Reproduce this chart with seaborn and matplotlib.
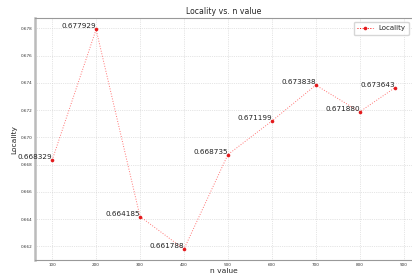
import numpy as np
import pandas as pd
import matplotlib
matplotlib.use("Agg")
import matplotlib.pyplot as plt
import seaborn as sns

n_values = [100, 200, 300, 400, 500, 600, 700, 800, 880]
locality = [0.668329, 0.677929, 0.664185, 0.661788, 0.668735,
            0.671199, 0.673838, 0.671880, 0.673643]

df = pd.DataFrame({"n value": n_values, "Locality": locality})

sns.set_style("whitegrid", {"grid.linestyle": ":", "grid.color": "#cccccc"})
plt.rcParams["font.family"] = ["DejaVu Sans"]

fig = plt.figure(figsize=(4.12, 2.8), dpi=100)
ax = fig.add_axes([0.085, 0.071, 0.915, 0.863])

sns.lineplot(data=df, x="n value", y="Locality", ax=ax, color="red",
             linestyle=":", linewidth=0.7, alpha=0.55, label="Locality")
ax.plot(df["n value"], df["Locality"], "o", color="#e31a1c", markersize=2.6,
        markeredgewidth=0)

for x, y in zip(n_values, locality):
    ax.text(x, y, f"{y:.6f}", ha="right", va="bottom", fontsize=5.2,
            color="#222222")

ax.set_xticks(range(100, 1000, 100))
ax.set_xlim(61, 919)
ax.tick_params(axis="both", labelsize=3, length=0, pad=2, colors="#333333")
ax.grid(True, linewidth=0.5)
ax.set_title("Locality vs. n value", fontsize=5.6, pad=3)
ax.set_xlabel("n value", fontsize=5.4, labelpad=1)
ax.set_ylabel("Locality", fontsize=5.4, labelpad=2)

for s in ["top", "bottom"]:
    ax.spines[s].set_color("#999999")
    ax.spines[s].set_linewidth(0.8)
ax.spines["left"].set_color("#bbbbbb")
ax.spines["left"].set_linewidth(1.8)
ax.spines["right"].set_visible(False)

handles = [plt.Line2D([], [], color="red", linestyle=":", linewidth=0.7,
                      marker="o", markersize=2.6, markerfacecolor="#e31a1c",
                      markeredgewidth=0)]
ax.legend(handles, ["Locality"], loc="upper right", fontsize=5,
          frameon=True, handlelength=2.2, borderpad=0.5)

fig.savefig("out.png", dpi=100)
